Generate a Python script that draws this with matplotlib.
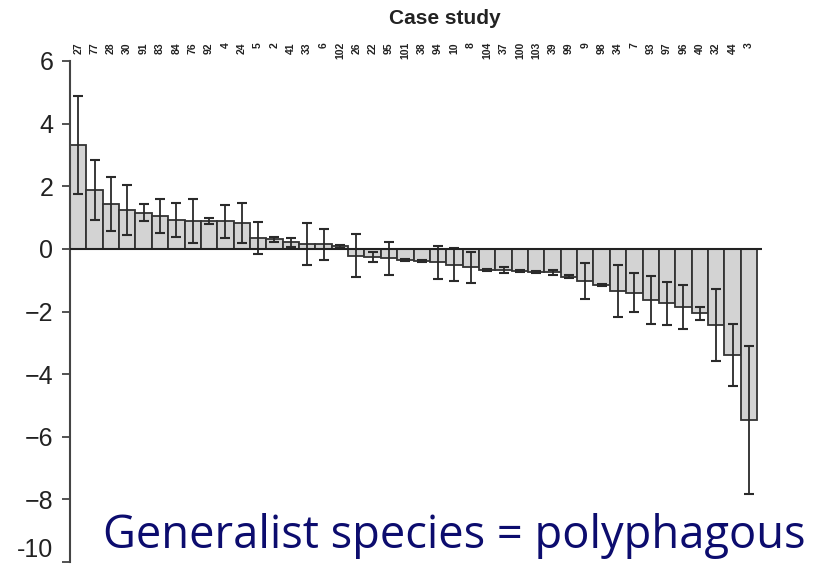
import matplotlib
matplotlib.use("Agg")
import matplotlib.pyplot as plt
from matplotlib.transforms import blended_transform_factory

case_labels = ["27", "77", "28", "30", "91", "83", "84", "76", "92", "4", "24", "5", "2", "41",
               "33", "6", "102", "26", "22", "95", "101", "38", "94", "10", "8", "104", "37",
               "100", "103", "39", "99", "9", "98", "34", "7", "93", "97", "96", "40", "32", "44", "3"]
effect = [3.32, 1.88, 1.42, 1.25, 1.15, 1.04, 0.93, 0.88, 0.88, 0.88, 0.83, 0.35, 0.31, 0.21,
          0.16, 0.15, 0.08, -0.22, -0.27, -0.30, -0.35, -0.39, -0.43, -0.50, -0.59, -0.67, -0.67,
          -0.70, -0.74, -0.75, -0.89, -1.03, -1.16, -1.34, -1.40, -1.63, -1.74, -1.85, -2.06,
          -2.43, -3.39, -5.47]
err = [1.57, 0.96, 0.86, 0.80, 0.27, 0.54, 0.55, 0.70, 0.10, 0.53, 0.64, 0.52, 0.08, 0.15,
       0.68, 0.49, 0.04, 0.68, 0.16, 0.52, 0.03, 0.03, 0.52, 0.52, 0.50, 0.03, 0.10,
       0.03, 0.04, 0.08, 0.04, 0.57, 0.04, 0.82, 0.62, 0.77, 0.69, 0.70, 0.20,
       1.15, 1.00, 2.37]
ytick_vals = [-10, -8, -6, -4, -2, 0, 2, 4, 6]
ytick_text = ["-10", "\u22128", "\u22126", "\u22124", "\u22122", "0", "2", "4", "6"]

W, H = 825, 575
fig = plt.figure(figsize=(W / 100, H / 100), dpi=100)
ax = fig.add_axes([70 / W, 1 - 562 / H, (762 - 70) / W, (562 - 61) / H])

x = list(range(len(effect)))
ax.bar(x, effect, width=1.0, color="#d3d3d3", edgecolor="#333333", linewidth=1.3, zorder=2)
ax.errorbar(x, effect, yerr=err, fmt="none", ecolor="#2a2a2a", elinewidth=1.3,
            capsize=3.8, capthick=1.5, zorder=3)
ax.axhline(0, color="#222222", lw=1.5, zorder=4)

ax.set_xlim(-0.5, 41.8)
ax.set_ylim(-10, 6)
for s in ["top", "right", "bottom"]:
    ax.spines[s].set_visible(False)
ax.spines["left"].set_color("#444444")
ax.spines["left"].set_linewidth(1.5)
ax.set_xticks([])
ax.set_yticks(ytick_vals)
ax.set_yticklabels(ytick_text, fontfamily="Liberation Sans", fontsize=18, color="#222222")
ax.tick_params(axis="y", length=6, width=1.3, color="#444444", pad=6)
ax.get_yticklabels()[0].set_verticalalignment("bottom")

trans = blended_transform_factory(ax.transData, fig.transFigure)
for xi, lab in zip(x, case_labels):
    ax.text(xi, 1 - 42 / H, lab, rotation=90, ha="center", va="top", fontsize=7.5,
            fontweight="bold", fontfamily="Liberation Sans", color="#222222",
            transform=trans, clip_on=False)

fig.text(445 / W, 1 - 19 / H, "Case study", ha="center", va="center", fontsize=15,
         fontweight="bold", fontfamily="Liberation Sans", color="#222222")

t = fig.text(103 / W, 1 - 548 / H, "Generalist species = polyphagous", ha="left",
             va="baseline", fontsize=30, fontfamily="Open Sans", color="#0c0c6e")
r = fig.canvas.get_renderer()
bb = t.get_window_extent(renderer=r)
t.set_fontsize(30 * 702 / bb.width)

fig.savefig("out.png", dpi=100)
